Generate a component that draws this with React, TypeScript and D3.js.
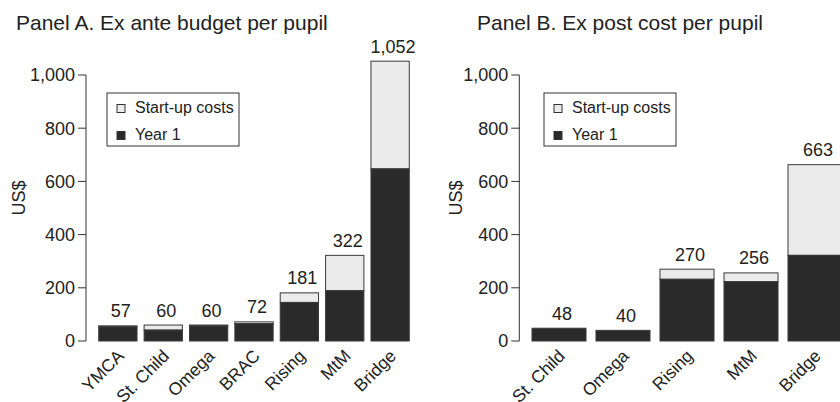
import React from "react";
import * as d3 from "d3";

const catsA = ["YMCA", "St. Child", "Omega", "BRAC", "Rising", "MtM", "Bridge"];
const totalA = [57, 60, 60, 72, 181, 322, 1052];
const year1A = [53, 41, 56, 65, 145, 189, 647];

const catsB = ["St. Child", "Omega", "Rising", "MtM", "Bridge"];
const totalB = [48, 40, 270, 256, 663];
const year1B = [48, 40, 232, 223, 322];

const yTicks = [0, 200, 400, 600, 800, 1000];
const legendLabels = ["Start-up costs", "Year 1"];

const FONT = "'Liberation Sans', Arial, Helvetica, sans-serif";
const DARK = "#2a2a2a";
const LIGHT = "#ebebeb";
const INK = "#222";

type PanelProps = {
  title: string;
  cats: string[];
  totals: number[];
  year1: number[];
  axisX: number;
  range: [number, number];
  titleX: number;
  legendX: number;
  ylabX: number;
};

const fmt = d3.format(",");

function Panel({ title, cats, totals, year1, axisX, range, titleX, legendX, ylabX }: PanelProps) {
  const y = d3.scaleLinear().domain([0, 1000]).range([341, 75]);
  const x = d3
    .scaleBand<string>()
    .domain(cats)
    .range(range)
    .paddingInner(0.156)
    .paddingOuter(0.078);
  const bw = x.bandwidth();
  return (
    <g>
      <text x={titleX} y={30} fontSize={21} fill={INK} fontFamily={FONT}>
        {title}
      </text>
      {/* y axis */}
      <line x1={axisX} x2={axisX} y1={y(0)} y2={y(1000)} stroke="#333" strokeWidth={1} />
      {yTicks.map((t) => (
        <g key={t}>
          <line x1={axisX - 8} x2={axisX} y1={y(t)} y2={y(t)} stroke="#333" strokeWidth={1} />
          <text
            x={axisX - 11}
            y={y(t)}
            dy="0.36em"
            textAnchor="end"
            fontSize={18}
            fill={INK}
            fontFamily={FONT}
          >
            {fmt(t)}
          </text>
        </g>
      ))}
      <text
        transform={`translate(${ylabX},198) rotate(-90)`}
        textAnchor="middle"
        fontSize={18}
        fill={INK}
        fontFamily={FONT}
      >
        US$
      </text>
      {/* bars */}
      {cats.map((c, i) => {
        const x0 = x(c)!;
        const cx = x0 + bw / 2;
        return (
          <g key={c}>
            <rect
              x={x0}
              y={y(totals[i])}
              width={bw}
              height={y(year1[i]) - y(totals[i])}
              fill={LIGHT}
              stroke="#3a3a3a"
              strokeWidth={1}
            />
            <rect
              x={x0}
              y={y(year1[i])}
              width={bw}
              height={y(0) - y(year1[i])}
              fill={DARK}
              stroke="#3a3a3a"
              strokeWidth={1}
            />
            <text
              x={cx + 3}
              y={y(totals[i]) - 8.5}
              textAnchor="middle"
              fontSize={18}
              fill={INK}
              fontFamily={FONT}
            >
              {fmt(totals[i])}
            </text>
            <text
              transform={`translate(${cx + 7},357) rotate(-45)`}
              textAnchor="end"
              fontSize={17.5}
              fill={INK}
              fontFamily={FONT}
            >
              {c}
            </text>
          </g>
        );
      })}
      {/* legend */}
      <g transform={`translate(${legendX},93)`}>
        <rect x={0} y={0} width={132} height={53} fill="#fff" stroke="#333" strokeWidth={1} />
        {legendLabels.map((l, i) => (
          <g key={l} transform={`translate(0,${i * 27})`}>
            <rect
              x={10}
              y={11.5}
              width={8}
              height={8}
              fill={i === 0 ? LIGHT : DARK}
              stroke="#333"
              strokeWidth={1}
            />
            <text x={28} y={19.5} fontSize={16} fill={INK} fontFamily={FONT}>
              {l}
            </text>
          </g>
        ))}
      </g>
    </g>
  );
}

export default function App() {
  return (
    <svg
      width={840}
      height={402}
      style={{ position: "absolute", left: 0, top: 0, background: "#fff" }}
    >
      <rect width={840} height={402} fill="#fff" />
      <Panel
        title="Panel A. Ex ante budget per pupil"
        cats={catsA}
        totals={totalA}
        year1={year1A}
        axisX={86}
        range={[95.2, 412.8]}
        titleX={16}
        legendX={107}
        ylabX={25}
      />
      <Panel
        title="Panel B. Ex post cost per pupil"
        cats={catsB}
        totals={totalB}
        year1={year1B}
        axisX={519.3}
        range={[527, 847]}
        titleX={477}
        legendX={544}
        ylabX={462}
      />
    </svg>
  );
}
